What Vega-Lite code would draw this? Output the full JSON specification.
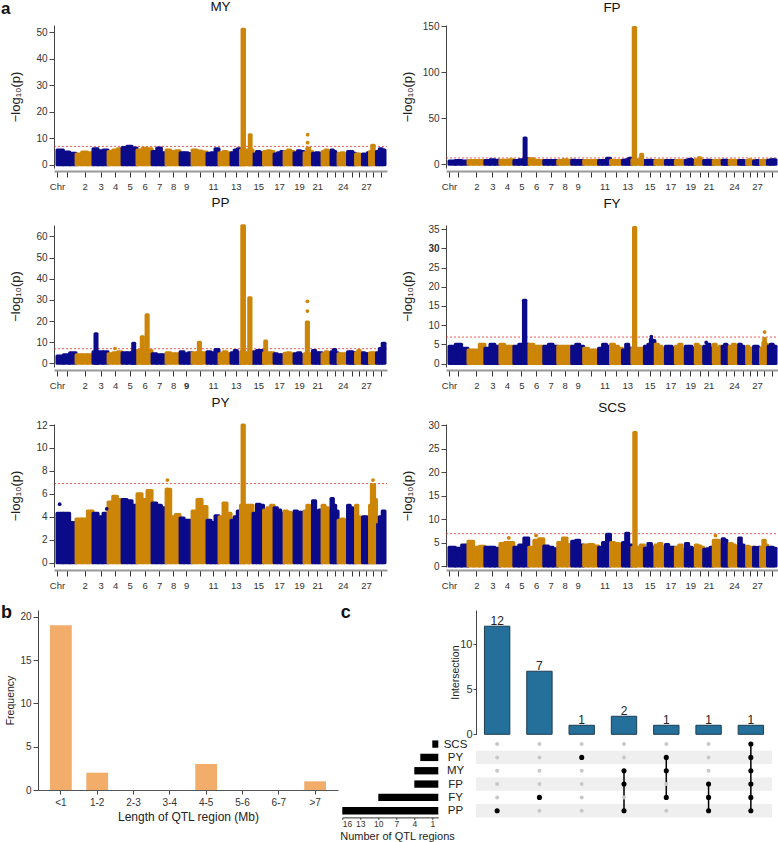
{
"$schema":"https://vega.github.io/schema/vega-lite/v6.json",
"autosize":"none",
"padding":{"left":38,"top":25,"right":740,"bottom":817},
"background":"white",
"config":{"view":{"stroke":null},"font":"Liberation Sans","title":{"fontWeight":"normal","fontSize":13.5,"color":"#111"},"axis":{"labelFont":"Liberation Sans","titleFont":"Liberation Sans","grid":false,"domainColor":"#444","tickColor":"#444","labelColor":"#333","titleColor":"#222","titleFontWeight":"normal"}},
"datasets":{
"seg":[{"g":11,"c":1,"x0":0,"x1":48},{"g":12,"c":1,"x0":48,"x1":95},{"g":13,"c":1,"x0":95,"x1":143},{"g":21,"c":2,"x0":143,"x1":185},{"g":22,"c":2,"x0":185,"x1":228},{"g":23,"c":2,"x0":228,"x1":270},{"g":31,"c":3,"x0":270,"x1":308},{"g":32,"c":3,"x0":308,"x1":345},{"g":33,"c":3,"x0":345,"x1":383},{"g":41,"c":4,"x0":383,"x1":418},{"g":42,"c":4,"x0":418,"x1":453},{"g":43,"c":4,"x0":453,"x1":488},{"g":51,"c":5,"x0":488,"x1":525},{"g":52,"c":5,"x0":525,"x1":563},{"g":53,"c":5,"x0":563,"x1":600},{"g":61,"c":6,"x0":600,"x1":638},{"g":62,"c":6,"x0":638,"x1":675},{"g":63,"c":6,"x0":675,"x1":713},{"g":71,"c":7,"x0":713,"x1":748},{"g":72,"c":7,"x0":748,"x1":783},{"g":73,"c":7,"x0":783,"x1":818},{"g":81,"c":8,"x0":818,"x1":853},{"g":82,"c":8,"x0":853,"x1":888},{"g":83,"c":8,"x0":888,"x1":923},{"g":91,"c":9,"x0":923,"x1":953},{"g":92,"c":9,"x0":953,"x1":983},{"g":93,"c":9,"x0":983,"x1":1013},{"g":101,"c":10,"x0":1013,"x1":1050},{"g":102,"c":10,"x0":1050,"x1":1088},{"g":103,"c":10,"x0":1088,"x1":1125},{"g":111,"c":11,"x0":1125,"x1":1155},{"g":112,"c":11,"x0":1155,"x1":1185},{"g":113,"c":11,"x0":1185,"x1":1215},{"g":121,"c":12,"x0":1215,"x1":1245},{"g":122,"c":12,"x0":1245,"x1":1275},{"g":123,"c":12,"x0":1275,"x1":1305},{"g":131,"c":13,"x0":1305,"x1":1329},{"g":132,"c":13,"x0":1329,"x1":1352},{"g":133,"c":13,"x0":1352,"x1":1376},{"g":141,"c":14,"x0":1376,"x1":1407},{"g":142,"c":14,"x0":1407,"x1":1439},{"g":143,"c":14,"x0":1439,"x1":1470},{"g":151,"c":15,"x0":1470,"x1":1496},{"g":152,"c":15,"x0":1496,"x1":1523},{"g":153,"c":15,"x0":1523,"x1":1549},{"g":161,"c":16,"x0":1549,"x1":1575},{"g":162,"c":16,"x0":1575,"x1":1602},{"g":163,"c":16,"x0":1602,"x1":1628},{"g":171,"c":17,"x0":1628,"x1":1653},{"g":172,"c":17,"x0":1653,"x1":1678},{"g":173,"c":17,"x0":1678,"x1":1703},{"g":181,"c":18,"x0":1703,"x1":1728},{"g":182,"c":18,"x0":1728,"x1":1753},{"g":183,"c":18,"x0":1753,"x1":1778},{"g":191,"c":19,"x0":1778,"x1":1803},{"g":192,"c":19,"x0":1803,"x1":1828},{"g":193,"c":19,"x0":1828,"x1":1853},{"g":201,"c":20,"x0":1853,"x1":1874},{"g":202,"c":20,"x0":1874,"x1":1895},{"g":203,"c":20,"x0":1895,"x1":1916},{"g":211,"c":21,"x0":1916,"x1":1940},{"g":212,"c":21,"x0":1940,"x1":1964},{"g":213,"c":21,"x0":1964,"x1":1988},{"g":221,"c":22,"x0":1988,"x1":2010},{"g":222,"c":22,"x0":2010,"x1":2033},{"g":223,"c":22,"x0":2033,"x1":2055},{"g":231,"c":23,"x0":2055,"x1":2073},{"g":232,"c":23,"x0":2073,"x1":2090},{"g":233,"c":23,"x0":2090,"x1":2108},{"g":241,"c":24,"x0":2108,"x1":2132},{"g":242,"c":24,"x0":2132,"x1":2155},{"g":243,"c":24,"x0":2155,"x1":2179},{"g":251,"c":25,"x0":2179,"x1":2199},{"g":252,"c":25,"x0":2199,"x1":2219},{"g":253,"c":25,"x0":2219,"x1":2239},{"g":261,"c":26,"x0":2239,"x1":2256},{"g":262,"c":26,"x0":2256,"x1":2274},{"g":263,"c":26,"x0":2274,"x1":2291},{"g":271,"c":27,"x0":2291,"x1":2309},{"g":272,"c":27,"x0":2309,"x1":2326},{"g":273,"c":27,"x0":2326,"x1":2344},{"g":281,"c":28,"x0":2344,"x1":2361},{"g":282,"c":28,"x0":2361,"x1":2379},{"g":283,"c":28,"x0":2379,"x1":2396},{"g":291,"c":29,"x0":2396,"x1":2417},{"g":292,"c":29,"x0":2417,"x1":2439},{"g":293,"c":29,"x0":2439,"x1":2460}],
"bgMY":[{"g":11,"v":5.5},{"g":12,"v":4.8},{"g":13,"v":4.3},{"g":21,"v":4.0},{"g":22,"v":4.8},{"g":23,"v":4.5},{"g":31,"v":6.0},{"g":32,"v":5.3},{"g":33,"v":5.5},{"g":41,"v":5.0},{"g":42,"v":5.5},{"g":43,"v":6.0},{"g":51,"v":6.5},{"g":52,"v":7.0},{"g":53,"v":6.3},{"g":61,"v":5.5},{"g":62,"v":6.2},{"g":63,"v":6.0},{"g":71,"v":5.0},{"g":72,"v":6.3},{"g":73,"v":4.5},{"g":81,"v":5.5},{"g":82,"v":5.0},{"g":83,"v":5.3},{"g":91,"v":4.5},{"g":92,"v":4.5},{"g":93,"v":4.2},{"g":101,"v":5.5},{"g":102,"v":5.2},{"g":103,"v":4.8},{"g":111,"v":4.3},{"g":112,"v":4.5},{"g":113,"v":6.0},{"g":121,"v":4.5},{"g":122,"v":5.0},{"g":123,"v":4.5},{"g":131,"v":4.5},{"g":132,"v":5.5},{"g":133,"v":6.0},{"g":141,"v":5.5},{"g":142,"v":5.5},{"g":143,"v":5.5},{"g":151,"v":4.0},{"g":152,"v":5.0},{"g":153,"v":4.5},{"g":161,"v":5.0},{"g":162,"v":5.3},{"g":163,"v":5.0},{"g":171,"v":4.0},{"g":172,"v":4.5},{"g":173,"v":5.0},{"g":181,"v":5.0},{"g":182,"v":5.5},{"g":183,"v":5.0},{"g":191,"v":4.5},{"g":192,"v":5.3},{"g":193,"v":5.0},{"g":201,"v":4.5},{"g":202,"v":6.3},{"g":203,"v":5.0},{"g":211,"v":4.3},{"g":212,"v":4.5},{"g":213,"v":4.3},{"g":221,"v":5.0},{"g":222,"v":5.5},{"g":223,"v":4.5},{"g":231,"v":5.5},{"g":232,"v":5.0},{"g":233,"v":4.0},{"g":241,"v":4.3},{"g":242,"v":4.5},{"g":243,"v":4.0},{"g":251,"v":5.0},{"g":252,"v":5.0},{"g":253,"v":4.3},{"g":261,"v":4.0},{"g":262,"v":4.0},{"g":263,"v":3.8},{"g":271,"v":4.0},{"g":272,"v":3.8},{"g":273,"v":4.5},{"g":281,"v":5.0},{"g":282,"v":7.3},{"g":283,"v":5.0},{"g":291,"v":5.0},{"g":292,"v":6.0},{"g":293,"v":5.5}],
"bgFP":[{"g":11,"v":3.5},{"g":12,"v":4},{"g":13,"v":3.5},{"g":21,"v":4},{"g":22,"v":4},{"g":23,"v":4},{"g":31,"v":4},{"g":32,"v":5},{"g":33,"v":4.5},{"g":41,"v":4.5},{"g":42,"v":4.5},{"g":43,"v":5},{"g":51,"v":4},{"g":52,"v":5},{"g":53,"v":6},{"g":61,"v":6},{"g":62,"v":4.5},{"g":63,"v":4},{"g":71,"v":4},{"g":72,"v":4},{"g":73,"v":4},{"g":81,"v":4},{"g":82,"v":5},{"g":83,"v":4.5},{"g":91,"v":4.5},{"g":92,"v":4},{"g":93,"v":4},{"g":101,"v":4},{"g":102,"v":4},{"g":103,"v":4},{"g":111,"v":4},{"g":112,"v":4},{"g":113,"v":6.5},{"g":121,"v":4.5},{"g":122,"v":4},{"g":123,"v":4},{"g":131,"v":4.5},{"g":132,"v":5},{"g":133,"v":6.5},{"g":141,"v":5},{"g":142,"v":5},{"g":143,"v":4.5},{"g":151,"v":4},{"g":152,"v":4.5},{"g":153,"v":4},{"g":161,"v":4},{"g":162,"v":4.5},{"g":163,"v":4},{"g":171,"v":4},{"g":172,"v":4},{"g":173,"v":4},{"g":181,"v":4},{"g":182,"v":4.5},{"g":183,"v":4},{"g":191,"v":4.5},{"g":192,"v":5.5},{"g":193,"v":4.5},{"g":201,"v":5},{"g":202,"v":7},{"g":203,"v":4.5},{"g":211,"v":4},{"g":212,"v":4.5},{"g":213,"v":4},{"g":221,"v":4},{"g":222,"v":4},{"g":223,"v":4.5},{"g":231,"v":4.5},{"g":232,"v":4.5},{"g":233,"v":4},{"g":241,"v":4.5},{"g":242,"v":4.5},{"g":243,"v":4},{"g":251,"v":4},{"g":252,"v":4},{"g":253,"v":3.5},{"g":261,"v":4},{"g":262,"v":5},{"g":263,"v":4},{"g":271,"v":3.5},{"g":272,"v":4},{"g":273,"v":3.5},{"g":281,"v":4},{"g":282,"v":4.5},{"g":283,"v":4},{"g":291,"v":4.5},{"g":292,"v":5},{"g":293,"v":5}],
"bgPP":[{"g":11,"v":3.5},{"g":12,"v":4},{"g":13,"v":5},{"g":21,"v":4},{"g":22,"v":4},{"g":23,"v":4},{"g":31,"v":5.5},{"g":32,"v":5.5},{"g":33,"v":5.5},{"g":41,"v":4.5},{"g":42,"v":5},{"g":43,"v":5.5},{"g":51,"v":5},{"g":52,"v":5},{"g":53,"v":5.5},{"g":61,"v":6},{"g":62,"v":6},{"g":63,"v":6},{"g":71,"v":4.5},{"g":72,"v":4},{"g":73,"v":4},{"g":81,"v":5},{"g":82,"v":4.5},{"g":83,"v":4.5},{"g":91,"v":5.5},{"g":92,"v":4.5},{"g":93,"v":5},{"g":101,"v":5},{"g":102,"v":5},{"g":103,"v":5},{"g":111,"v":5.5},{"g":112,"v":5},{"g":113,"v":6.5},{"g":121,"v":4.5},{"g":122,"v":5.5},{"g":123,"v":4.5},{"g":131,"v":5},{"g":132,"v":6},{"g":133,"v":5},{"g":141,"v":5.5},{"g":142,"v":5},{"g":143,"v":5},{"g":151,"v":5.5},{"g":152,"v":6},{"g":153,"v":6},{"g":161,"v":5},{"g":162,"v":5},{"g":163,"v":5},{"g":171,"v":4.5},{"g":172,"v":4},{"g":173,"v":4},{"g":181,"v":4.8},{"g":182,"v":5},{"g":183,"v":4.5},{"g":191,"v":4.5},{"g":192,"v":5},{"g":193,"v":4},{"g":201,"v":4.5},{"g":202,"v":4.5},{"g":203,"v":4.5},{"g":211,"v":6},{"g":212,"v":5},{"g":213,"v":5},{"g":221,"v":4.5},{"g":222,"v":5.5},{"g":223,"v":5},{"g":231,"v":5.5},{"g":232,"v":6.5},{"g":233,"v":5},{"g":241,"v":4.5},{"g":242,"v":4.5},{"g":243,"v":4.5},{"g":251,"v":5.5},{"g":252,"v":5.5},{"g":253,"v":5},{"g":261,"v":5},{"g":262,"v":6},{"g":263,"v":5},{"g":271,"v":5},{"g":272,"v":4.5},{"g":273,"v":4.5},{"g":281,"v":5},{"g":282,"v":5},{"g":283,"v":5},{"g":291,"v":5},{"g":292,"v":7},{"g":293,"v":9.5}],
"bgFY":[{"g":11,"v":4.5},{"g":12,"v":5},{"g":13,"v":4},{"g":21,"v":3.5},{"g":22,"v":3.5},{"g":23,"v":5},{"g":31,"v":4},{"g":32,"v":5},{"g":33,"v":4.5},{"g":41,"v":5},{"g":42,"v":4.5},{"g":43,"v":4.5},{"g":51,"v":4.5},{"g":52,"v":5},{"g":53,"v":5},{"g":61,"v":5},{"g":62,"v":4.5},{"g":63,"v":4.5},{"g":71,"v":4.5},{"g":72,"v":5},{"g":73,"v":4.5},{"g":81,"v":4.5},{"g":82,"v":4.5},{"g":83,"v":4.5},{"g":91,"v":4.5},{"g":92,"v":5},{"g":93,"v":4.5},{"g":101,"v":4},{"g":102,"v":3.5},{"g":103,"v":3.5},{"g":111,"v":4},{"g":112,"v":5},{"g":113,"v":4.5},{"g":121,"v":5},{"g":122,"v":4.5},{"g":123,"v":4},{"g":131,"v":3.5},{"g":132,"v":5},{"g":133,"v":4},{"g":141,"v":4},{"g":142,"v":4},{"g":143,"v":4},{"g":151,"v":4.5},{"g":152,"v":5},{"g":153,"v":6},{"g":161,"v":5},{"g":162,"v":4.5},{"g":163,"v":4},{"g":171,"v":4.5},{"g":172,"v":4.5},{"g":173,"v":4},{"g":181,"v":4.5},{"g":182,"v":5},{"g":183,"v":4},{"g":191,"v":4.5},{"g":192,"v":4.5},{"g":193,"v":4},{"g":201,"v":5},{"g":202,"v":4.5},{"g":203,"v":4},{"g":211,"v":4.5},{"g":212,"v":5},{"g":213,"v":4},{"g":221,"v":5},{"g":222,"v":4},{"g":223,"v":4.5},{"g":231,"v":4.5},{"g":232,"v":5},{"g":233,"v":4.5},{"g":241,"v":4.5},{"g":242,"v":5},{"g":243,"v":4},{"g":251,"v":5},{"g":252,"v":4.5},{"g":253,"v":4},{"g":261,"v":4.5},{"g":262,"v":4},{"g":263,"v":4},{"g":271,"v":4.5},{"g":272,"v":4.5},{"g":273,"v":4},{"g":281,"v":4},{"g":282,"v":5.5},{"g":283,"v":5},{"g":291,"v":4.5},{"g":292,"v":5},{"g":293,"v":4.5}],
"bgPY":[{"g":11,"v":4.3},{"g":12,"v":4.3},{"g":13,"v":3.5},{"g":21,"v":3.8},{"g":22,"v":3.8},{"g":23,"v":4.5},{"g":31,"v":4.3},{"g":32,"v":4.0},{"g":33,"v":4.3},{"g":41,"v":5.3},{"g":42,"v":5.8},{"g":43,"v":5.5},{"g":51,"v":5.5},{"g":52,"v":5.4},{"g":53,"v":5.0},{"g":61,"v":6.0},{"g":62,"v":5.5},{"g":63,"v":6.3},{"g":71,"v":5.2},{"g":72,"v":5.0},{"g":73,"v":4.8},{"g":81,"v":6.4},{"g":82,"v":4.0},{"g":83,"v":4.2},{"g":91,"v":3.9},{"g":92,"v":3.7},{"g":93,"v":3.7},{"g":101,"v":4.5},{"g":102,"v":5.5},{"g":103,"v":4.9},{"g":111,"v":3.7},{"g":112,"v":3.5},{"g":113,"v":4.1},{"g":121,"v":4.0},{"g":122,"v":5.2},{"g":123,"v":4.3},{"g":131,"v":3.7},{"g":132,"v":4.0},{"g":133,"v":4.5},{"g":141,"v":5.0},{"g":142,"v":5.0},{"g":143,"v":5.0},{"g":151,"v":4.3},{"g":152,"v":5.1},{"g":153,"v":5.0},{"g":161,"v":4.6},{"g":162,"v":4.8},{"g":163,"v":5.0},{"g":171,"v":4.8},{"g":172,"v":4.6},{"g":173,"v":4.3},{"g":181,"v":4.5},{"g":182,"v":4.4},{"g":183,"v":4.3},{"g":191,"v":4.5},{"g":192,"v":4.4},{"g":193,"v":4.4},{"g":201,"v":4.5},{"g":202,"v":5.0},{"g":203,"v":4.7},{"g":211,"v":5.4},{"g":212,"v":4.5},{"g":213,"v":4.6},{"g":221,"v":5.0},{"g":222,"v":4.8},{"g":223,"v":4.5},{"g":231,"v":5.6},{"g":232,"v":5.0},{"g":233,"v":4.5},{"g":241,"v":3.7},{"g":242,"v":3.8},{"g":243,"v":3.7},{"g":251,"v":5.0},{"g":252,"v":4.8},{"g":253,"v":4.0},{"g":261,"v":5.0},{"g":262,"v":4.0},{"g":263,"v":3.9},{"g":271,"v":4.0},{"g":272,"v":4.0},{"g":273,"v":3.3},{"g":281,"v":5.0},{"g":282,"v":6.5},{"g":283,"v":5.5},{"g":291,"v":3.3},{"g":292,"v":4.0},{"g":293,"v":4.5}],
"bgSCS":[{"g":11,"v":4.0},{"g":12,"v":3.8},{"g":13,"v":4.5},{"g":21,"v":5.3},{"g":22,"v":4.0},{"g":23,"v":4.2},{"g":31,"v":4.0},{"g":32,"v":4.0},{"g":33,"v":3.8},{"g":41,"v":4.8},{"g":42,"v":5.0},{"g":43,"v":5.0},{"g":51,"v":4.0},{"g":52,"v":4.5},{"g":53,"v":6.0},{"g":61,"v":4.0},{"g":62,"v":5.5},{"g":63,"v":5.8},{"g":71,"v":4.3},{"g":72,"v":4.0},{"g":73,"v":3.7},{"g":81,"v":5.0},{"g":82,"v":6.0},{"g":83,"v":4.6},{"g":91,"v":5.3},{"g":92,"v":5.5},{"g":93,"v":4.5},{"g":101,"v":4.5},{"g":102,"v":4.6},{"g":103,"v":4.3},{"g":111,"v":4.0},{"g":112,"v":5.0},{"g":113,"v":6.8},{"g":121,"v":5.0},{"g":122,"v":4.8},{"g":123,"v":4.7},{"g":131,"v":5.0},{"g":132,"v":7.0},{"g":133,"v":4.5},{"g":141,"v":4.0},{"g":142,"v":4.0},{"g":143,"v":4.5},{"g":151,"v":3.8},{"g":152,"v":4.8},{"g":153,"v":4.0},{"g":161,"v":4.5},{"g":162,"v":4.8},{"g":163,"v":4.0},{"g":171,"v":4.6},{"g":172,"v":4.0},{"g":173,"v":4.0},{"g":181,"v":4.0},{"g":182,"v":4.5},{"g":183,"v":3.5},{"g":191,"v":4.8},{"g":192,"v":4.0},{"g":193,"v":3.8},{"g":201,"v":4.5},{"g":202,"v":4.3},{"g":203,"v":4.0},{"g":211,"v":3.6},{"g":212,"v":3.7},{"g":213,"v":4.0},{"g":221,"v":5.5},{"g":222,"v":5.5},{"g":223,"v":4.5},{"g":231,"v":5.8},{"g":232,"v":5.5},{"g":233,"v":4.5},{"g":241,"v":4.8},{"g":242,"v":4.5},{"g":243,"v":4.0},{"g":251,"v":6.0},{"g":252,"v":4.5},{"g":253,"v":4.0},{"g":261,"v":4.2},{"g":262,"v":4.0},{"g":263,"v":4.0},{"g":271,"v":4.0},{"g":272,"v":3.8},{"g":273,"v":4.0},{"g":281,"v":4.0},{"g":282,"v":5.5},{"g":283,"v":4.5},{"g":291,"v":4.0},{"g":292,"v":4.0},{"g":293,"v":3.8}],
"pk":[
{"t":"MY","c":14,"x0":1388,"x1":1406,"v":51},{"t":"MY","c":14,"x0":1442,"x1":1456,"v":11.3},
{"t":"FP","c":5,"x0":565,"x1":580,"v":28.5},{"t":"FP","c":14,"x0":1386,"x1":1404,"v":148.5},{"t":"FP","c":14,"x0":1442,"x1":1456,"v":11},
{"t":"PP","c":3,"x0":285,"x1":300,"v":14},{"t":"PP","c":5,"x0":568,"x1":583,"v":9.5},{"t":"PP","c":6,"x0":632,"x1":648,"v":12.5},{"t":"PP","c":6,"x0":668,"x1":684,"v":23},{"t":"PP","c":10,"x0":1060,"x1":1076,"v":10},{"t":"PP","c":14,"x0":1386,"x1":1406,"v":65},{"t":"PP","c":14,"x0":1438,"x1":1455,"v":31},{"t":"PP","c":16,"x0":1558,"x1":1572,"v":10.5},{"t":"PP","c":20,"x0":1870,"x1":1886,"v":19.5},
{"t":"FY","c":5,"x0":560,"x1":578,"v":16.5},{"t":"FY","c":14,"x0":1388,"x1":1405,"v":35.5},{"t":"FY","c":15,"x0":1515,"x1":1528,"v":6.3},{"t":"FY","c":28,"x0":2368,"x1":2380,"v":6.5},
{"t":"PY","c":14,"x0":1388,"x1":1405,"v":12},{"t":"PY","c":28,"x0":2358,"x1":2382,"v":6.8},
{"t":"SCS","c":14,"x0":1390,"x1":1408,"v":28.5}
],
"pt":[
{"t":"MY","c":20,"x0":1880,"v":11.3},{"t":"MY","c":20,"x0":1880,"v":8.3},
{"t":"PP","c":4,"x0":435,"v":7},{"t":"PP","c":20,"x0":1878,"v":29.3},{"t":"PP","c":20,"x0":1878,"v":24.7},
{"t":"FY","c":15,"x0":1522,"v":7},{"t":"FY","c":28,"x0":2374,"v":8.2},{"t":"FY","c":21,"x0":1935,"v":5.5},
{"t":"PY","c":1,"x0":20,"v":5.1},{"t":"PY","c":3,"x0":373,"v":4.7},{"t":"PY","c":8,"x0":828,"v":7.2},{"t":"PY","c":8,"x0":828,"v":6.4},{"t":"PY","c":28,"x0":2370,"v":7.2},
{"t":"SCS","c":4,"x0":450,"v":6},{"t":"SCS","c":6,"x0":655,"v":6.5},{"t":"SCS","c":22,"x0":2005,"v":6.5}
],
"freq":[{"len":"<1","n":19},{"len":"1-2","n":2},{"len":"2-3","n":0},{"len":"3-4","n":0},{"len":"4-5","n":3},{"len":"5-6","n":0},{"len":"6-7","n":0},{"len":">7","n":1}],
"inter":[{"i":1,"n":12},{"i":2,"n":7},{"i":3,"n":1},{"i":4,"n":2},{"i":5,"n":1},{"i":6,"n":1},{"i":7,"n":1}],
"sizes":[{"set":"SCS","n":1},{"set":"PY","n":3},{"set":"MY","n":4},{"set":"FP","n":4},{"set":"FY","n":10},{"set":"PP","n":16}],
"stripes":[{"i":0.5,"i2":7.5,"r":1.5,"r2":2.5},{"i":0.5,"i2":7.5,"r":3.5,"r2":4.5},{"i":0.5,"i2":7.5,"r":5.5,"r2":6.5}],
"links":[{"i":4,"r":3,"r2":6},{"i":5,"r":2,"r2":5},{"i":6,"r":4,"r2":6},{"i":7,"r":1,"r2":6}],
"cells":[
{"i":1,"r":1,"on":0},{"i":1,"r":2,"on":0},{"i":1,"r":3,"on":0},{"i":1,"r":4,"on":0},{"i":1,"r":5,"on":0},{"i":1,"r":6,"on":1},
{"i":2,"r":1,"on":0},{"i":2,"r":2,"on":0},{"i":2,"r":3,"on":0},{"i":2,"r":4,"on":0},{"i":2,"r":5,"on":1},{"i":2,"r":6,"on":0},
{"i":3,"r":1,"on":0},{"i":3,"r":2,"on":1},{"i":3,"r":3,"on":0},{"i":3,"r":4,"on":0},{"i":3,"r":5,"on":0},{"i":3,"r":6,"on":0},
{"i":4,"r":1,"on":0},{"i":4,"r":2,"on":0},{"i":4,"r":3,"on":1},{"i":4,"r":4,"on":1},{"i":4,"r":5,"on":0},{"i":4,"r":6,"on":1},
{"i":5,"r":1,"on":0},{"i":5,"r":2,"on":1},{"i":5,"r":3,"on":1},{"i":5,"r":4,"on":0},{"i":5,"r":5,"on":1},{"i":5,"r":6,"on":0},
{"i":6,"r":1,"on":0},{"i":6,"r":2,"on":0},{"i":6,"r":3,"on":0},{"i":6,"r":4,"on":1},{"i":6,"r":5,"on":1},{"i":6,"r":6,"on":1},
{"i":7,"r":1,"on":1},{"i":7,"r":2,"on":1},{"i":7,"r":3,"on":1},{"i":7,"r":4,"on":1},{"i":7,"r":5,"on":1},{"i":7,"r":6,"on":1}
]
},
"bounds":"flush",
"spacing":585,
"vconcat":[
{"bounds":"flush","spacing":15,"hconcat":[
 {"width":1,"height":1,"data":{"values":[{}]},"mark":{"type":"point","opacity":0},"title":{"text":"a","anchor":"start","frame":"group","fontSize":17,"fontWeight":"bold","baseline":"alphabetic","offset":-8,"dx":-37}},
 {"bounds":"flush","columns":2,"spacing":{"row":57,"column":59},"concat":[
  {"title":{"text":"MY","baseline":"alphabetic","offset":0.5},"width":333,"height":143,
   "encoding":{"x":{"field":"x0","type":"quantitative","scale":{"domain":[-22.5,2475],"nice":false,"zero":false},"axis":{"values":[0,71.5,206.5,326.5,435.5,544,656.5,765.5,870.5,968,1069,1170,1260,1340.5,1423,1509.5,1588.5,1665.5,1740.5,1815.5,1884.5,1952,2021.5,2081.5,2143.5,2209,2265,2317.5,2370,2428],"labelExpr":"['Chr','','2','3','4','5','6','7','8','9','','11','','13','','15','','17','','19','','21','','','24','','','27','',''][indexof([0,71.5,206.5,326.5,435.5,544,656.5,765.5,870.5,968,1069,1170,1260,1340.5,1423,1509.5,1588.5,1665.5,1740.5,1815.5,1884.5,1952,2021.5,2081.5,2143.5,2209,2265,2317.5,2370,2428],datum.value)]","title":null,"tickSize":6,"offset":3,"domainColor":"#999","domainWidth":2,"tickColor":"#333","labelFontSize":9.5,"labelPadding":4,"labelOverlap":false,"labelBound":false,"labelFlush":false}},"x2":{"field":"x1"},
    "y":{"field":"v","type":"quantitative","scale":{"domain":[-1.24,52.64],"nice":false,"zero":false},"axis":{"values":[0,10,20,30,40,50],"title":"−log₁₀(p)","titleFontSize":13,"titleX":-39,"titleBaseline":"middle","tickSize":5,"labelFontSize":10,"labelPadding":2,"labelOverlap":false,"labelFlush":false}},"y2":{"datum":0},
    "fill":{"condition":{"test":"datum.c%2==1","value":"#0B0B8A"},"value":"#CD8507"},"stroke":{"condition":{"test":"datum.c%2==1","value":"#0B0B8A"},"value":"#CD8507"}},
   "layer":[
    {"data":{"values":[{"x0":-22.5,"x1":2475,"v":6.9}]},"mark":{"type":"rule","strokeWidth":1,"opacity":0.8,"strokeDash":[2,2]},"encoding":{"y2":{"datum":6.9},"stroke":{"value":"#F03030"}}},
    {"data":{"name":"bgMY"},"transform":[{"lookup":"g","from":{"data":{"name":"seg"},"key":"g","fields":["c","x0","x1"]}}],"mark":{"type":"rect","strokeWidth":3,"strokeJoin":"round"}},
    {"data":{"name":"pk"},"transform":[{"filter":"datum.t=='MY'"}],"mark":{"type":"rect","strokeWidth":3,"strokeJoin":"round"}},
    {"data":{"name":"pt"},"transform":[{"filter":"datum.t=='MY'"}],"mark":{"type":"circle","size":14,"opacity":1,"strokeWidth":0}}
   ]},
  {"title":{"text":"FP","baseline":"alphabetic","offset":-4.5},"width":332,"height":143,
   "encoding":{"x":{"field":"x0","type":"quantitative","scale":{"domain":[-22.5,2475],"nice":false,"zero":false},"axis":{"values":[0,71.5,206.5,326.5,435.5,544,656.5,765.5,870.5,968,1069,1170,1260,1340.5,1423,1509.5,1588.5,1665.5,1740.5,1815.5,1884.5,1952,2021.5,2081.5,2143.5,2209,2265,2317.5,2370,2428],"labelExpr":"['Chr','','2','3','4','5','6','7','8','9','','11','','13','','15','','17','','19','','21','','','24','','','27','',''][indexof([0,71.5,206.5,326.5,435.5,544,656.5,765.5,870.5,968,1069,1170,1260,1340.5,1423,1509.5,1588.5,1665.5,1740.5,1815.5,1884.5,1952,2021.5,2081.5,2143.5,2209,2265,2317.5,2370,2428],datum.value)]","title":null,"tickSize":6,"offset":3,"domainColor":"#999","domainWidth":2,"tickColor":"#333","labelFontSize":9.5,"labelPadding":4,"labelOverlap":false,"labelBound":false,"labelFlush":false}},"x2":{"field":"x1"},
    "y":{"field":"v","type":"quantitative","scale":{"domain":[-4.0,151.1],"nice":false,"zero":false},"axis":{"values":[0,50,100,150],"title":"−log₁₀(p)","titleFontSize":13,"titleX":-39,"titleBaseline":"middle","tickSize":5,"labelFontSize":10,"labelPadding":2,"labelOverlap":false,"labelFlush":false}},"y2":{"datum":0},
    "fill":{"condition":{"test":"datum.c%2==1","value":"#0B0B8A"},"value":"#CD8507"},"stroke":{"condition":{"test":"datum.c%2==1","value":"#0B0B8A"},"value":"#CD8507"}},
   "layer":[
    {"data":{"values":[{"x0":-22.5,"x1":2475,"v":6.9}]},"mark":{"type":"rule","strokeWidth":1,"opacity":0.8,"strokeDash":[2,2]},"encoding":{"y2":{"datum":6.9},"stroke":{"value":"#F03030"}}},
    {"data":{"name":"bgFP"},"transform":[{"lookup":"g","from":{"data":{"name":"seg"},"key":"g","fields":["c","x0","x1"]}}],"mark":{"type":"rect","strokeWidth":3,"strokeJoin":"round"}},
    {"data":{"name":"pk"},"transform":[{"filter":"datum.t=='FP'"}],"mark":{"type":"rect","strokeWidth":3,"strokeJoin":"round"}}
   ]},
  {"title":{"text":"PP","baseline":"alphabetic","offset":3.5},"width":333,"height":142,
   "encoding":{"x":{"field":"x0","type":"quantitative","scale":{"domain":[-22.5,2475],"nice":false,"zero":false},"axis":{"values":[0,71.5,206.5,326.5,435.5,544,656.5,765.5,870.5,968,1069,1170,1260,1340.5,1423,1509.5,1588.5,1665.5,1740.5,1815.5,1884.5,1952,2021.5,2081.5,2143.5,2209,2265,2317.5,2370,2428],"labelExpr":"['Chr','','2','3','4','5','6','7','8','9','','11','','13','','15','','17','','19','','21','','','24','','','27','',''][indexof([0,71.5,206.5,326.5,435.5,544,656.5,765.5,870.5,968,1069,1170,1260,1340.5,1423,1509.5,1588.5,1665.5,1740.5,1815.5,1884.5,1952,2021.5,2081.5,2143.5,2209,2265,2317.5,2370,2428],datum.value)]","labelFontWeight":{"condition":{"test":"datum.value==968","value":"bold"},"value":"normal"},"title":null,"tickSize":6,"offset":3,"domainColor":"#999","domainWidth":2,"tickColor":"#333","labelFontSize":9.5,"labelPadding":4,"labelOverlap":false,"labelBound":false,"labelFlush":false}},"x2":{"field":"x1"},
    "y":{"field":"v","type":"quantitative","scale":{"domain":[-1.75,65.4],"nice":false,"zero":false},"axis":{"values":[0,10,20,30,40,50,60],"title":"−log₁₀(p)","titleFontSize":13,"titleX":-39,"titleBaseline":"middle","tickSize":5,"labelFontSize":10,"labelPadding":2,"labelOverlap":false,"labelFlush":false}},"y2":{"datum":0},
    "fill":{"condition":{"test":"datum.c%2==1","value":"#0B0B8A"},"value":"#CD8507"},"stroke":{"condition":{"test":"datum.c%2==1","value":"#0B0B8A"},"value":"#CD8507"}},
   "layer":[
    {"data":{"values":[{"x0":-22.5,"x1":2475,"v":6.9}]},"mark":{"type":"rule","strokeWidth":1,"opacity":0.8,"strokeDash":[2,2]},"encoding":{"y2":{"datum":6.9},"stroke":{"value":"#F03030"}}},
    {"data":{"name":"bgPP"},"transform":[{"lookup":"g","from":{"data":{"name":"seg"},"key":"g","fields":["c","x0","x1"]}}],"mark":{"type":"rect","strokeWidth":3,"strokeJoin":"round"}},
    {"data":{"name":"pk"},"transform":[{"filter":"datum.t=='PP'"}],"mark":{"type":"rect","strokeWidth":3,"strokeJoin":"round"}},
    {"data":{"name":"pt"},"transform":[{"filter":"datum.t=='PP'"}],"mark":{"type":"circle","size":14,"opacity":1,"strokeWidth":0}}
   ]},
  {"title":{"text":"FY","baseline":"alphabetic","offset":2.8},"width":332,"height":142,
   "encoding":{"x":{"field":"x0","type":"quantitative","scale":{"domain":[-22.5,2475],"nice":false,"zero":false},"axis":{"values":[0,71.5,206.5,326.5,435.5,544,656.5,765.5,870.5,968,1069,1170,1260,1340.5,1423,1509.5,1588.5,1665.5,1740.5,1815.5,1884.5,1952,2021.5,2081.5,2143.5,2209,2265,2317.5,2370,2428],"labelExpr":"['Chr','','2','3','4','5','6','7','8','9','','11','','13','','15','','17','','19','','21','','','24','','','27','',''][indexof([0,71.5,206.5,326.5,435.5,544,656.5,765.5,870.5,968,1069,1170,1260,1340.5,1423,1509.5,1588.5,1665.5,1740.5,1815.5,1884.5,1952,2021.5,2081.5,2143.5,2209,2265,2317.5,2370,2428],datum.value)]","title":null,"tickSize":6,"offset":3,"domainColor":"#999","domainWidth":2,"tickColor":"#333","labelFontSize":9.5,"labelPadding":4,"labelOverlap":false,"labelBound":false,"labelFlush":false}},"x2":{"field":"x1"},
    "y":{"field":"v","type":"quantitative","scale":{"domain":[-0.91,36.12],"nice":false,"zero":false},"axis":{"values":[0,5,10,15,20,25,30,35],"labelFontWeight":{"condition":{"test":"datum.value==30","value":"bold"},"value":"normal"},"title":"−log₁₀(p)","titleFontSize":13,"titleX":-39,"titleBaseline":"middle","tickSize":5,"labelFontSize":10,"labelPadding":2,"labelOverlap":false,"labelFlush":false}},"y2":{"datum":0},
    "fill":{"condition":{"test":"datum.c%2==1","value":"#0B0B8A"},"value":"#CD8507"},"stroke":{"condition":{"test":"datum.c%2==1","value":"#0B0B8A"},"value":"#CD8507"}},
   "layer":[
    {"data":{"values":[{"x0":-22.5,"x1":2475,"v":6.9}]},"mark":{"type":"rule","strokeWidth":1,"opacity":0.8,"strokeDash":[2,2]},"encoding":{"y2":{"datum":6.9},"stroke":{"value":"#F03030"}}},
    {"data":{"name":"bgFY"},"transform":[{"lookup":"g","from":{"data":{"name":"seg"},"key":"g","fields":["c","x0","x1"]}}],"mark":{"type":"rect","strokeWidth":3,"strokeJoin":"round"}},
    {"data":{"name":"pk"},"transform":[{"filter":"datum.t=='FY'"}],"mark":{"type":"rect","strokeWidth":3,"strokeJoin":"round"}},
    {"data":{"name":"pt"},"transform":[{"filter":"datum.t=='FY'"}],"mark":{"type":"circle","size":14,"opacity":1,"strokeWidth":0}}
   ]},
  {"title":{"text":"PY","baseline":"alphabetic","offset":-0.5},"width":333,"height":143,
   "encoding":{"x":{"field":"x0","type":"quantitative","scale":{"domain":[-22.5,2475],"nice":false,"zero":false},"axis":{"values":[0,71.5,206.5,326.5,435.5,544,656.5,765.5,870.5,968,1069,1170,1260,1340.5,1423,1509.5,1588.5,1665.5,1740.5,1815.5,1884.5,1952,2021.5,2081.5,2143.5,2209,2265,2317.5,2370,2428],"labelExpr":"['Chr','','2','3','4','5','6','7','8','9','','11','','13','','15','','17','','19','','21','','','24','','','27','',''][indexof([0,71.5,206.5,326.5,435.5,544,656.5,765.5,870.5,968,1069,1170,1260,1340.5,1423,1509.5,1588.5,1665.5,1740.5,1815.5,1884.5,1952,2021.5,2081.5,2143.5,2209,2265,2317.5,2370,2428],datum.value)]","title":null,"tickSize":6,"offset":3,"domainColor":"#999","domainWidth":2,"tickColor":"#333","labelFontSize":9.5,"labelPadding":4,"labelOverlap":false,"labelBound":false,"labelFlush":false}},"x2":{"field":"x1"},
    "y":{"field":"v","type":"quantitative","scale":{"domain":[-0.375,12.09],"nice":false,"zero":false},"axis":{"values":[0,2,4,6,8,10,12],"title":"−log₁₀(p)","titleFontSize":13,"titleX":-39,"titleBaseline":"middle","tickSize":5,"labelFontSize":10,"labelPadding":2,"labelOverlap":false,"labelFlush":false}},"y2":{"datum":0},
    "fill":{"condition":{"test":"datum.c%2==1","value":"#0B0B8A"},"value":"#CD8507"},"stroke":{"condition":{"test":"datum.c%2==1","value":"#0B0B8A"},"value":"#CD8507"}},
   "layer":[
    {"data":{"values":[{"x0":-22.5,"x1":2475,"v":6.9}]},"mark":{"type":"rule","strokeWidth":1,"opacity":0.8,"strokeDash":[2,2]},"encoding":{"y2":{"datum":6.9},"stroke":{"value":"#F03030"}}},
    {"data":{"name":"bgPY"},"transform":[{"lookup":"g","from":{"data":{"name":"seg"},"key":"g","fields":["c","x0","x1"]}}],"mark":{"type":"rect","strokeWidth":3,"strokeJoin":"round"}},
    {"data":{"name":"pk"},"transform":[{"filter":"datum.t=='PY'"}],"mark":{"type":"rect","strokeWidth":3,"strokeJoin":"round"}},
    {"data":{"name":"pt"},"transform":[{"filter":"datum.t=='PY'"}],"mark":{"type":"circle","size":14,"opacity":1,"strokeWidth":0}}
   ]},
  {"title":{"text":"SCS","baseline":"alphabetic","offset":-5.5},"width":332,"height":143,
   "encoding":{"x":{"field":"x0","type":"quantitative","scale":{"domain":[-22.5,2475],"nice":false,"zero":false},"axis":{"values":[0,71.5,206.5,326.5,435.5,544,656.5,765.5,870.5,968,1069,1170,1260,1340.5,1423,1509.5,1588.5,1665.5,1740.5,1815.5,1884.5,1952,2021.5,2081.5,2143.5,2209,2265,2317.5,2370,2428],"labelExpr":"['Chr','','2','3','4','5','6','7','8','9','','11','','13','','15','','17','','19','','21','','','24','','','27','',''][indexof([0,71.5,206.5,326.5,435.5,544,656.5,765.5,870.5,968,1069,1170,1260,1340.5,1423,1509.5,1588.5,1665.5,1740.5,1815.5,1884.5,1952,2021.5,2081.5,2143.5,2209,2265,2317.5,2370,2428],datum.value)]","title":null,"tickSize":6,"offset":3,"domainColor":"#999","domainWidth":2,"tickColor":"#333","labelFontSize":9.5,"labelPadding":4,"labelOverlap":false,"labelBound":false,"labelFlush":false}},"x2":{"field":"x1"},
    "y":{"field":"v","type":"quantitative","scale":{"domain":[-0.21,30.32],"nice":false,"zero":false},"axis":{"values":[0,5,10,15,20,25,30],"title":"−log₁₀(p)","titleFontSize":13,"titleX":-39,"titleBaseline":"middle","tickSize":5,"labelFontSize":10,"labelPadding":2,"labelOverlap":false,"labelFlush":false}},"y2":{"datum":0},
    "fill":{"condition":{"test":"datum.c%2==1","value":"#0B0B8A"},"value":"#CD8507"},"stroke":{"condition":{"test":"datum.c%2==1","value":"#0B0B8A"},"value":"#CD8507"}},
   "layer":[
    {"data":{"values":[{"x0":-22.5,"x1":2475,"v":6.9}]},"mark":{"type":"rule","strokeWidth":1,"opacity":0.8,"strokeDash":[2,2]},"encoding":{"y2":{"datum":6.9},"stroke":{"value":"#F03030"}}},
    {"data":{"name":"bgSCS"},"transform":[{"lookup":"g","from":{"data":{"name":"seg"},"key":"g","fields":["c","x0","x1"]}}],"mark":{"type":"rect","strokeWidth":3,"strokeJoin":"round"}},
    {"data":{"name":"pk"},"transform":[{"filter":"datum.t=='SCS'"}],"mark":{"type":"rect","strokeWidth":3,"strokeJoin":"round"}},
    {"data":{"name":"pt"},"transform":[{"filter":"datum.t=='SCS'"}],"mark":{"type":"circle","size":14,"opacity":1,"strokeWidth":0}}
   ]}
 ]}
]},
{"bounds":"flush","spacing":4.3,"hconcat":[
 {"width":300,"height":180,"title":{"text":"b","anchor":"start","frame":"group","fontSize":18,"fontWeight":"bold","baseline":"alphabetic","offset":-26,"dx":-37},
  "data":{"name":"freq"},"mark":{"type":"bar","fill":"#F2AD6B"},
  "encoding":{"x":{"field":"len","type":"ordinal","sort":null,"scale":{"paddingInner":0.4,"paddingOuter":0.33},"axis":{"title":"Length of QTL region (Mb)","labelAngle":0,"tickSize":4,"labelFontSize":10,"labelPadding":3,"titleFontSize":12,"titlePadding":4,"domainColor":"#555"}},
   "y":{"field":"n","type":"quantitative","scale":{"domain":[0,20.77],"nice":false},"axis":{"values":[0,5,10,15,20],"title":"Frequency","titleX":-28,"titleBaseline":"middle","titleFontSize":10.5,"labelFontSize":10,"tickSize":5,"labelPadding":2}}}},
 {"bounds":"flush","columns":2,"spacing":{"row":2.4,"column":37.7},"concat":[
   {"width":96,"height":124.3,"data":{"values":[{}]},"mark":{"type":"point","opacity":0},"title":{"text":"c","anchor":"start","frame":"group","fontSize":18,"fontWeight":"bold","baseline":"alphabetic","offset":-26,"dx":-1.5}},
   {"width":296,"height":124.3,"data":{"name":"inter"},
    "encoding":{"x":{"field":"i","type":"ordinal","scale":{"paddingInner":0.4,"paddingOuter":0.2},"axis":null},"y":{"field":"n","type":"quantitative","scale":{"domain":[0,13.8],"nice":false},"axis":{"values":[0,5,10],"title":"Intersection","titleX":-21,"titleBaseline":"middle","titleFontSize":10.5,"labelFontSize":11,"tickSize":3,"labelPadding":1}}},
    "layer":[
     {"mark":{"type":"bar","fill":"#24709A","stroke":"#1C3D52","strokeWidth":1}},
     {"mark":{"type":"text","baseline":"alphabetic","dy":-1,"fontSize":12,"color":"#222"},"encoding":{"text":{"field":"n"}}}
    ]},
   {"width":96,"height":80,"data":{"name":"sizes"},"mark":{"type":"bar","color":"#000"},
    "encoding":{"y":{"field":"set","type":"ordinal","sort":["SCS","PY","MY","FP","FY","PP"],"scale":{"paddingInner":0.45,"paddingOuter":0.225},"axis":null},
     "x":{"field":"n","type":"quantitative","scale":{"domain":[0,16],"reverse":true,"nice":false},"axis":{"values":[1,4,7,10,13,16],"title":"Number of QTL regions","titleX":54.7,"titleY":18.8,"titleBaseline":"middle","tickSize":2,"labelFontSize":8.5,"titleFontSize":11,"labelPadding":0,"domainColor":"#333","offset":0,"labelOverlap":false}}}},
   {"width":296,"height":80,
    "encoding":{"x":{"field":"i","type":"quantitative","scale":{"domain":[0.5,7.5],"nice":false,"zero":false},"axis":null},
     "y":{"field":"r","type":"quantitative","scale":{"domain":[0.5,6.5],"reverse":true,"nice":false,"zero":false},"axis":{"values":[1,2,3,4,5,6],"labelExpr":"['','SCS','PY','MY','FP','FY','PP'][datum.value]","ticks":false,"domain":false,"labelAlign":"center","labelPadding":21,"labelFontSize":11.5,"labelColor":"#222","title":null,"labelOverlap":false,"labelFlush":false}}},
    "layer":[
     {"data":{"name":"stripes"},"mark":{"type":"rect","fill":"#EFEFEF"},"encoding":{"x2":{"field":"i2"},"y2":{"field":"r2"}}},
     {"data":{"name":"links"},"mark":{"type":"rule","strokeWidth":1.5,"color":"#000"},"encoding":{"y2":{"field":"r2"}}},
     {"data":{"name":"cells"},"mark":{"type":"circle","opacity":1},"encoding":{"color":{"condition":{"test":"datum.on==1","value":"#000"},"value":"#C8C8C8"},"size":{"condition":{"test":"datum.on==1","value":26},"value":16}}}
    ]}
 ]}
]}
]
}
